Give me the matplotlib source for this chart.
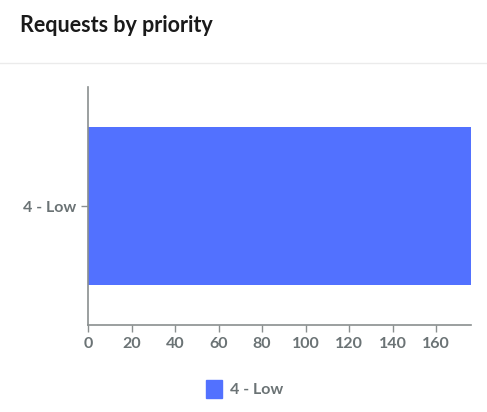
import matplotlib.pyplot as plt
from matplotlib.lines import Line2D

plt.rcParams['font.family'] = ['Lato', 'DejaVu Sans']

priorities = ['4 - Low']
counts = [176]
x_ticks = [0, 20, 40, 60, 80, 100, 120, 140, 160]

bar_color = '#5271ff'
axis_color = '#8a8f8f'
label_color = '#6b7375'

fig = plt.figure(figsize=(4.87, 4.12), dpi=100)

# title block with a thin divider under it
fig.text(20 / 487, 1 - 25 / 412, 'Requests by priority', fontsize=15.5,
         fontweight='bold', color='#1a1a1a', va='center', ha='left')
fig.add_artist(Line2D([0, 1], [1 - 63 / 412, 1 - 63 / 412], color='#ebebeb', lw=1))

ax = fig.add_axes([88 / 487, 1 - 325 / 412, (471 - 88) / 487, (325 - 87) / 412])
ax.barh(priorities, counts, height=1.0, color=bar_color, zorder=1)
ax.set_xlim(0, counts[0])
ax.set_ylim(-0.75, 0.75)
ax.set_xticks(x_ticks)

for side in ['top', 'right']:
    ax.spines[side].set_visible(False)
for side in ['left', 'bottom']:
    ax.spines[side].set_color(axis_color)
    ax.spines[side].set_linewidth(1.2)
    ax.spines[side].set_zorder(3)

ax.tick_params(axis='both', colors=axis_color, length=5, width=1,
               labelcolor=label_color, labelsize=11.5)
for lab in ax.get_xticklabels() + ax.get_yticklabels():
    lab.set_fontweight('bold')

leg = fig.legend([plt.Rectangle((0, 0), 1, 1, color=bar_color)], priorities,
                 loc='center', bbox_to_anchor=(245 / 487, 1 - 389 / 412),
                 frameon=False, handlelength=1.0, handleheight=1.4,
                 handletextpad=0.5, fontsize=11.5)
for t in leg.get_texts():
    t.set_color(label_color)
    t.set_fontweight('bold')

fig.savefig('out.png', dpi=100)
